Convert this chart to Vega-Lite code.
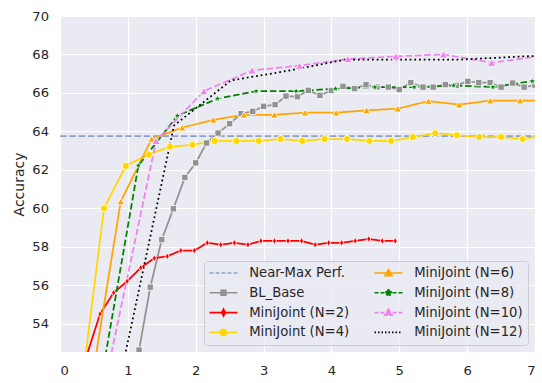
{
"$schema": "https://vega.github.io/schema/vega-lite/v6.json",
"width": 475, "height": 336,
"autosize": {"type": "none"},
"padding": {"left": 60, "top": 16, "right": 7, "bottom": 31},
"background": "white",
"datasets": {"d": [
{"s":"Near-Max Perf.","x":0,"y":63.75},{"s":"Near-Max Perf.","x":7,"y":63.75},
{"s":"BL_Base","x":1.0,"y":49.3},{"s":"BL_Base","x":1.165,"y":52.62},{"s":"BL_Base","x":1.33,"y":55.89},{"s":"BL_Base","x":1.5,"y":58.37},{"s":"BL_Base","x":1.67,"y":59.97},{"s":"BL_Base","x":1.84,"y":61.6},{"s":"BL_Base","x":2.0,"y":62.36},{"s":"BL_Base","x":2.16,"y":63.39},{"s":"BL_Base","x":2.33,"y":63.91},{"s":"BL_Base","x":2.5,"y":64.4},{"s":"BL_Base","x":2.67,"y":64.92},{"s":"BL_Base","x":2.84,"y":65.04},{"s":"BL_Base","x":3.0,"y":65.3},{"s":"BL_Base","x":3.17,"y":65.39},{"s":"BL_Base","x":3.33,"y":65.83},{"s":"BL_Base","x":3.5,"y":65.8},{"s":"BL_Base","x":3.66,"y":66.13},{"s":"BL_Base","x":3.83,"y":65.87},{"s":"BL_Base","x":4.0,"y":66.13},{"s":"BL_Base","x":4.17,"y":66.34},{"s":"BL_Base","x":4.34,"y":66.22},{"s":"BL_Base","x":4.51,"y":66.43},{"s":"BL_Base","x":4.67,"y":66.3},{"s":"BL_Base","x":4.84,"y":66.3},{"s":"BL_Base","x":5.0,"y":66.17},{"s":"BL_Base","x":5.17,"y":66.53},{"s":"BL_Base","x":5.35,"y":66.3},{"s":"BL_Base","x":5.5,"y":66.3},{"s":"BL_Base","x":5.68,"y":66.43},{"s":"BL_Base","x":5.84,"y":66.39},{"s":"BL_Base","x":6.01,"y":66.6},{"s":"BL_Base","x":6.17,"y":66.53},{"s":"BL_Base","x":6.34,"y":66.53},{"s":"BL_Base","x":6.5,"y":66.3},{"s":"BL_Base","x":6.67,"y":66.51},{"s":"BL_Base","x":6.84,"y":66.3},{"s":"BL_Base","x":7.0,"y":66.4},
{"s":"MiniJoint (N=2)","x":0.39,"y":52.3},{"s":"MiniJoint (N=2)","x":0.59,"y":54.5},{"s":"MiniJoint (N=2)","x":0.79,"y":55.6},{"s":"MiniJoint (N=2)","x":0.99,"y":56.2},{"s":"MiniJoint (N=2)","x":1.19,"y":56.9},{"s":"MiniJoint (N=2)","x":1.39,"y":57.4},{"s":"MiniJoint (N=2)","x":1.58,"y":57.5},{"s":"MiniJoint (N=2)","x":1.78,"y":57.8},{"s":"MiniJoint (N=2)","x":1.98,"y":57.8},{"s":"MiniJoint (N=2)","x":2.17,"y":58.2},{"s":"MiniJoint (N=2)","x":2.37,"y":58.1},{"s":"MiniJoint (N=2)","x":2.57,"y":58.2},{"s":"MiniJoint (N=2)","x":2.77,"y":58.1},{"s":"MiniJoint (N=2)","x":2.96,"y":58.3},{"s":"MiniJoint (N=2)","x":3.16,"y":58.3},{"s":"MiniJoint (N=2)","x":3.36,"y":58.3},{"s":"MiniJoint (N=2)","x":3.56,"y":58.3},{"s":"MiniJoint (N=2)","x":3.76,"y":58.1},{"s":"MiniJoint (N=2)","x":3.96,"y":58.2},{"s":"MiniJoint (N=2)","x":4.15,"y":58.2},{"s":"MiniJoint (N=2)","x":4.35,"y":58.3},{"s":"MiniJoint (N=2)","x":4.55,"y":58.4},{"s":"MiniJoint (N=2)","x":4.75,"y":58.3},{"s":"MiniJoint (N=2)","x":4.94,"y":58.3},
{"s":"MiniJoint (N=4)","x":0.325,"y":50.9},{"s":"MiniJoint (N=4)","x":0.649,"y":60.0},{"s":"MiniJoint (N=4)","x":0.969,"y":62.2},{"s":"MiniJoint (N=4)","x":1.31,"y":62.8},{"s":"MiniJoint (N=4)","x":1.62,"y":63.2},{"s":"MiniJoint (N=4)","x":1.95,"y":63.3},{"s":"MiniJoint (N=4)","x":2.28,"y":63.5},{"s":"MiniJoint (N=4)","x":2.6,"y":63.5},{"s":"MiniJoint (N=4)","x":2.93,"y":63.5},{"s":"MiniJoint (N=4)","x":3.25,"y":63.6},{"s":"MiniJoint (N=4)","x":3.57,"y":63.5},{"s":"MiniJoint (N=4)","x":3.9,"y":63.6},{"s":"MiniJoint (N=4)","x":4.23,"y":63.6},{"s":"MiniJoint (N=4)","x":4.56,"y":63.5},{"s":"MiniJoint (N=4)","x":4.88,"y":63.5},{"s":"MiniJoint (N=4)","x":5.2,"y":63.7},{"s":"MiniJoint (N=4)","x":5.53,"y":63.9},{"s":"MiniJoint (N=4)","x":5.85,"y":63.8},{"s":"MiniJoint (N=4)","x":6.18,"y":63.7},{"s":"MiniJoint (N=4)","x":6.5,"y":63.7},{"s":"MiniJoint (N=4)","x":6.82,"y":63.6},{"s":"MiniJoint (N=4)","x":7.15,"y":63.8},
{"s":"MiniJoint (N=6)","x":0.445,"y":50.5},{"s":"MiniJoint (N=6)","x":0.895,"y":60.35},{"s":"MiniJoint (N=6)","x":1.35,"y":63.6},{"s":"MiniJoint (N=6)","x":1.8,"y":64.19},{"s":"MiniJoint (N=6)","x":2.26,"y":64.6},{"s":"MiniJoint (N=6)","x":2.71,"y":64.86},{"s":"MiniJoint (N=6)","x":3.16,"y":64.86},{"s":"MiniJoint (N=6)","x":3.61,"y":64.97},{"s":"MiniJoint (N=6)","x":4.07,"y":64.97},{"s":"MiniJoint (N=6)","x":4.52,"y":65.09},{"s":"MiniJoint (N=6)","x":4.975,"y":65.18},{"s":"MiniJoint (N=6)","x":5.43,"y":65.57},{"s":"MiniJoint (N=6)","x":5.885,"y":65.39},{"s":"MiniJoint (N=6)","x":6.34,"y":65.6},{"s":"MiniJoint (N=6)","x":6.78,"y":65.6},{"s":"MiniJoint (N=6)","x":7.24,"y":65.6},
{"s":"MiniJoint (N=8)","x":0.575,"y":50.4},{"s":"MiniJoint (N=8)","x":1.155,"y":62.22},{"s":"MiniJoint (N=8)","x":1.73,"y":64.81},{"s":"MiniJoint (N=8)","x":2.32,"y":65.7},{"s":"MiniJoint (N=8)","x":2.89,"y":66.09},{"s":"MiniJoint (N=8)","x":3.48,"y":66.09},{"s":"MiniJoint (N=8)","x":4.06,"y":66.22},{"s":"MiniJoint (N=8)","x":4.64,"y":66.3},{"s":"MiniJoint (N=8)","x":5.22,"y":66.3},{"s":"MiniJoint (N=8)","x":5.8,"y":66.39},{"s":"MiniJoint (N=8)","x":6.38,"y":66.3},{"s":"MiniJoint (N=8)","x":6.96,"y":66.61},
{"s":"MiniJoint (N=10)","x":0.7,"y":51.5},{"s":"MiniJoint (N=10)","x":1.416,"y":63.5},{"s":"MiniJoint (N=10)","x":2.12,"y":66.09},{"s":"MiniJoint (N=10)","x":2.83,"y":67.17},{"s":"MiniJoint (N=10)","x":3.53,"y":67.42},{"s":"MiniJoint (N=10)","x":4.24,"y":67.76},{"s":"MiniJoint (N=10)","x":4.95,"y":67.9},{"s":"MiniJoint (N=10)","x":5.65,"y":68.0},{"s":"MiniJoint (N=10)","x":6.36,"y":67.57},{"s":"MiniJoint (N=10)","x":7.07,"y":67.9},
{"s":"MiniJoint (N=12)","x":0.84,"y":50.4},{"s":"MiniJoint (N=12)","x":1.68,"y":64.3},{"s":"MiniJoint (N=12)","x":2.52,"y":66.65},{"s":"MiniJoint (N=12)","x":3.36,"y":67.15},{"s":"MiniJoint (N=12)","x":4.2,"y":67.73},{"s":"MiniJoint (N=12)","x":5.04,"y":67.73},{"s":"MiniJoint (N=12)","x":5.88,"y":67.73},{"s":"MiniJoint (N=12)","x":6.72,"y":67.88},{"s":"MiniJoint (N=12)","x":7.56,"y":68.0}
]},
"data": {"name": "d"},
"encoding": {
  "x": {"field": "x", "type": "quantitative", "scale": {"domain": [0, 7], "nice": false, "zero": false}, "axis": {"values": [0,1,2,3,4,5,6,7], "title": null, "labelPadding": 12, "format": "d"}},
  "y": {"field": "y", "type": "quantitative", "scale": {"domain": [52.52, 70], "nice": false, "zero": false}, "axis": {"values": [54,56,58,60,62,64,66,68,70], "title": "Accuracy", "labelPadding": 11.5, "titlePadding": 5, "format": "d"}}
},
"layer": [
  {"mark": {"type": "line", "clip": true, "strokeWidth": 1.75},
   "encoding": {
     "color": {"field": "s", "type": "nominal", "legend": null, "scale": {"domain": ["Near-Max Perf.","BL_Base","MiniJoint (N=2)","MiniJoint (N=4)","MiniJoint (N=6)","MiniJoint (N=8)","MiniJoint (N=10)","MiniJoint (N=12)"], "range": ["#8CA2CB","#929292","#FF0000","#FFD700","#FFA500","#008000","#EE82EE","#000000"]}},
     "strokeDash": {"field": "s", "type": "nominal", "legend": null, "scale": {"domain": ["Near-Max Perf.","BL_Base","MiniJoint (N=2)","MiniJoint (N=4)","MiniJoint (N=6)","MiniJoint (N=8)","MiniJoint (N=10)","MiniJoint (N=12)"], "range": [[6.5,2.8],[1,0],[1,0],[1,0],[1,0],[6.5,2.8],[6.5,2.8],[1.8,2.9]]}}
   }},
  {"transform": [{"filter": "datum.s != 'Near-Max Perf.' && datum.s != 'MiniJoint (N=12)'"}],
   "mark": {"type": "point", "clip": true, "filled": true, "opacity": 1, "stroke": "white", "strokeWidth": 0.8},
   "encoding": {
     "color": {"field": "s", "type": "nominal", "legend": null, "scale": {"domain": ["Near-Max Perf.","BL_Base","MiniJoint (N=2)","MiniJoint (N=4)","MiniJoint (N=6)","MiniJoint (N=8)","MiniJoint (N=10)","MiniJoint (N=12)"], "range": ["#8CA2CB","#929292","#FF0000","#FFD700","#FFA500","#008000","#EE82EE","#000000"]}},
     "shape": {"field": "s", "type": "nominal", "legend": null, "scale": {"domain": ["BL_Base","MiniJoint (N=2)","MiniJoint (N=4)","MiniJoint (N=6)","MiniJoint (N=8)","MiniJoint (N=10)"], "range": ["square","M0,-1L0.6,0L0,1L-0.6,0Z","circle","triangle-up","M0,-1L0.2245,-0.309L0.951,-0.309L0.3633,0.118L0.588,0.809L0,0.382L-0.588,0.809L-0.3633,0.118L-0.951,-0.309L-0.2245,-0.309Z","triangle-up"]}},
     "size": {"field": "s", "type": "nominal", "legend": null, "scale": {"domain": ["BL_Base","MiniJoint (N=2)","MiniJoint (N=4)","MiniJoint (N=6)","MiniJoint (N=8)","MiniJoint (N=10)"], "range": [40, 68, 62, 78, 92, 85]}}
   }},
  {"transform": [{"filter": "datum.x > 100"}],
   "mark": {"type": "point", "filled": true, "opacity": 1, "size": 784, "strokeWidth": 1.6},
   "encoding": {
     "color": {"field": "s", "type": "nominal", "legend": {"title": null}, "scale": {"domain": ["Near-Max Perf.","BL_Base","MiniJoint (N=2)","MiniJoint (N=4)","MiniJoint (N=6)","MiniJoint (N=8)","MiniJoint (N=10)","MiniJoint (N=12)"], "range": ["#8CA2CB","#929292","#FF0000","#FFD700","#FFA500","#008000","#EE82EE","#000000"]}},
     "stroke": {"field": "s", "type": "nominal", "legend": {"title": null}, "scale": {"domain": ["Near-Max Perf.","BL_Base","MiniJoint (N=2)","MiniJoint (N=4)","MiniJoint (N=6)","MiniJoint (N=8)","MiniJoint (N=10)","MiniJoint (N=12)"], "range": ["#8CA2CB","#929292","#FF0000","#FFD700","#FFA500","#008000","#EE82EE","#000000"]}},
     "strokeDash": {"field": "s", "type": "nominal", "legend": {"title": null}, "scale": {"domain": ["Near-Max Perf.","BL_Base","MiniJoint (N=2)","MiniJoint (N=4)","MiniJoint (N=6)","MiniJoint (N=8)","MiniJoint (N=10)","MiniJoint (N=12)"], "range": [[4,2],[1,0],[1,0],[1,0],[1,0],[4,2],[4,2],[1.5,2]]}},
     "shape": {"field": "s", "type": "nominal", "legend": {"title": null}, "scale": {"domain": ["Near-Max Perf.","BL_Base","MiniJoint (N=2)","MiniJoint (N=4)","MiniJoint (N=6)","MiniJoint (N=8)","MiniJoint (N=10)","MiniJoint (N=12)"], "range": ["M-1,0H1","M-1,0H1M-0.17,-0.17H0.17V0.17H-0.17Z","M-1,0H1M0,-0.25L0.13,0L0,0.25L-0.13,0Z","M-1,0H1M0.22,0A0.22 0.22 0 1 1 -0.22,0A0.22 0.22 0 1 1 0.22,0Z","M-1,0H1M0,-0.25L0.26,0.19L-0.26,0.19Z","M-1,0H1M0,-0.28L0.063,-0.087L0.266,-0.087L0.102,0.033L0.165,0.227L0,0.107L-0.165,0.227L-0.102,0.033L-0.266,-0.087L-0.063,-0.087Z","M-1,0H1M0,-0.25L0.26,0.19L-0.26,0.19Z","M-1,0H1"]}}
   }}
],
"resolve": {"scale": {"color": "independent", "shape": "independent", "strokeDash": "independent", "stroke": "independent", "size": "independent"}},
"config": {
  "font": "DejaVu Sans",
  "view": {"fill": "#EAEAF2", "stroke": null},
  "axis": {"domain": false, "ticks": false, "grid": true, "gridColor": "white", "gridWidth": 1.2, "labelFont": "DejaVu Sans", "labelFontSize": 13.1, "labelColor": "#262626", "titleFont": "DejaVu Sans", "titleFontSize": 14, "titleColor": "#262626", "titleFontWeight": "normal"},
  "legend": {"orient": "bottom-right", "offset": 7.5, "columns": 2, "labelFont": "DejaVu Sans", "labelFontSize": 13.2, "labelColor": "#262626", "symbolSize": 784, "symbolStrokeWidth": 1.6, "labelOffset": 10.7, "clipHeight": 15, "rowPadding": 4.8, "columnPadding": 24, "padding": 4.5, "fillColor": "rgba(234,234,242,0.8)", "strokeColor": "#CCCCCC", "cornerRadius": 3, "symbolOpacity": 1}
}
}
